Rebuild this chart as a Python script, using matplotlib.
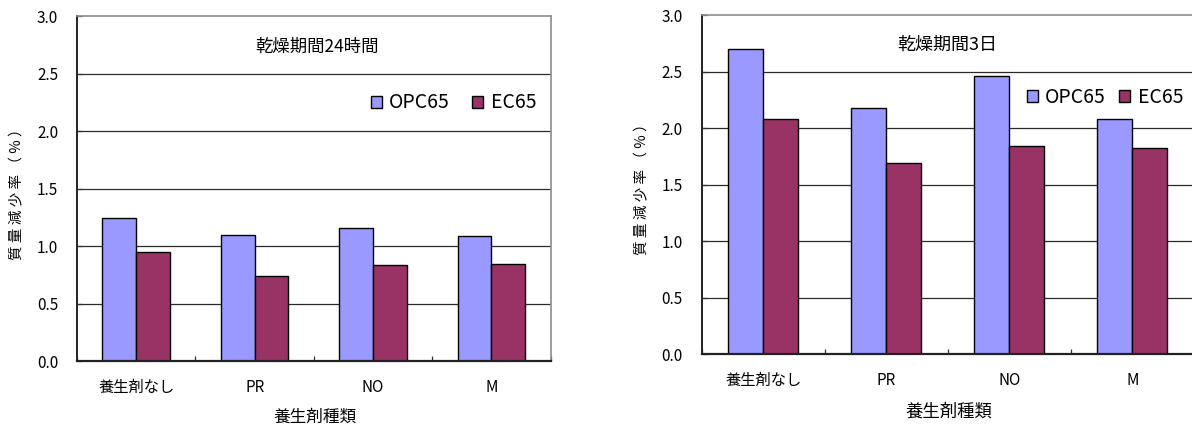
import matplotlib
matplotlib.use("Agg")
import matplotlib.pyplot as plt
from matplotlib.patches import Patch
import numpy as np

plt.rcParams['font.family'] = ['Noto Sans CJK JP', 'DejaVu Sans']

categories = ['養生剤なし', 'PR', 'NO', 'M']
series_names = ['OPC65', 'EC65']
opc_24h = [1.25, 1.10, 1.16, 1.09]
ec_24h = [0.95, 0.74, 0.84, 0.85]
opc_3d = [2.70, 2.18, 2.46, 2.08]
ec_3d = [2.08, 1.69, 1.84, 1.82]
yticks = [0.0, 0.5, 1.0, 1.5, 2.0, 2.5, 3.0]

titles = ['乾燥期間24時間', '乾燥期間3日']
xlabel = '養生剤種類'
ylabel = '質 量 減 少 率 （ % ）'

COL_OPC = '#9999FF'
COL_EC = '#993366'

W, H = 1192, 425
fig = plt.figure(figsize=(W / 100, H / 100), dpi=100)


def px_axes(x0, y0, x1, y1):
    return fig.add_axes([x0 / W, 1 - y1 / H, (x1 - x0) / W, (y1 - y0) / H])


def draw_panel(ax, opc, ec, fs_scale=1.0):
    x = np.arange(len(categories))
    bw = 1 / 3.5
    ax.bar(x - bw / 2, opc, bw, color=COL_OPC, edgecolor='black', linewidth=1.0, zorder=3)
    ax.bar(x + bw / 2, ec, bw, color=COL_EC, edgecolor='black', linewidth=1.0, zorder=3)
    ax.set_xlim(-0.5, len(categories) - 0.5)
    ax.set_ylim(0, 3.0)
    ax.set_yticks(yticks)
    ax.set_yticklabels([f'{v:.1f}' for v in yticks])
    ax.set_xticks(x)
    ax.set_xticklabels(categories)
    ax.set_xticks(np.arange(len(categories) + 1) - 0.5, minor=True)
    ax.tick_params(axis='x', which='major', length=0, pad=13, labelsize=11 * fs_scale)
    ax.tick_params(axis='x', which='minor', direction='in', length=3.5, width=0.9, color='#333333')
    ax.tick_params(axis='y', which='major', direction='in', length=3.5, width=0.9,
                   pad=13.5, labelsize=11 * fs_scale, color='#333333')
    for g in yticks[1:-1]:
        ax.axhline(g, color='#2a2a2a', linewidth=0.9, zorder=1)
    ax.spines['left'].set_color('#222222')
    ax.spines['left'].set_linewidth(1.4)
    ax.spines['bottom'].set_color('#222222')
    ax.spines['bottom'].set_linewidth(1.6)
    ax.spines['bottom'].set_zorder(4)
    ax.spines['top'].set_color('#8c8c8c')
    ax.spines['top'].set_linewidth(1.2)
    ax.spines['right'].set_color('#8c8c8c')
    ax.spines['right'].set_linewidth(1.2)


def add_legend(ax, xl, yc, colspace):
    handles = [Patch(facecolor=COL_OPC, edgecolor='black', linewidth=1.0),
               Patch(facecolor=COL_EC, edgecolor='black', linewidth=1.0)]
    ax.legend(handles, series_names, loc='center left', ncol=2, frameon=False,
              bbox_to_anchor=(xl / W, 1 - yc / H), bbox_transform=fig.transFigure,
              borderpad=0, borderaxespad=0, fontsize=14, handlelength=0.57,
              handleheight=0.57, handletextpad=0.37, columnspacing=colspace)


# drying period 24 h
ax1 = px_axes(77, 16.3, 550.7, 361.3)
draw_panel(ax1, opc_24h, ec_24h)
add_legend(ax1, 371, 103, 1.15)
fig.text(317 / W, 1 - 47 / H, titles[0], ha='center', va='center', fontsize=12.5)
fig.text(315 / W, 1 - 417 / H, xlabel, ha='center', va='center', fontsize=12)
fig.text(17 / W, 1 - 191 / H, ylabel, ha='center', va='center', rotation=90, fontsize=10.5)

# drying period 3 days
ax2 = px_axes(701.7, 15, 1193.7, 354.3)
draw_panel(ax2, opc_3d, ec_3d)
add_legend(ax2, 1026.7, 97.7, 0.7)
fig.text(947 / W, 1 - 45 / H, titles[1], ha='center', va='center', fontsize=13)
fig.text(949 / W, 1 - 412 / H, xlabel, ha='center', va='center', fontsize=12.5)
fig.text(642 / W, 1 - 186 / H, ylabel, ha='center', va='center', rotation=90, fontsize=10.5)

fig.savefig('out.png', dpi=100)
